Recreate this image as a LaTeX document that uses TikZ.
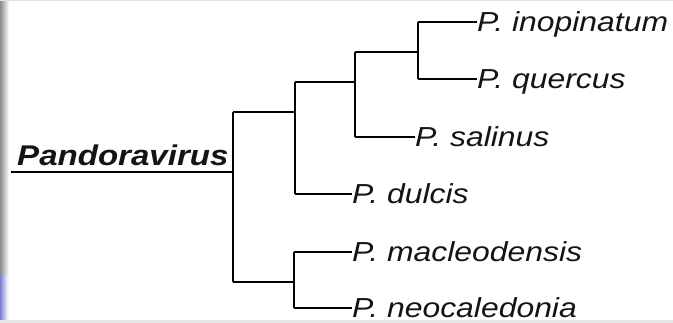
\documentclass[tikz,border=0pt]{standalone}
\usepackage{fontspec}
\newfontfamily\labfont[FakeStretch=1.16]{Liberation Sans}
\usetikzlibrary{shadings}
\tikzset{
  br/.style={line width=2pt, black},
  taxon/.style={anchor=base west, inner sep=0pt, font=\labfont\itshape\fontsize{27.5}{30}\selectfont, text=black!92},
}
\begin{document}
\begin{tikzpicture}[x=1pt,y=-1pt]
\useasboundingbox (0,0) rectangle (673,323);
\fill[white] (0,0) rectangle (673,323);
% frame shading
\shade[left color=black!45, right color=white] (0,0) rectangle (9,323);
\shade[left color=blue!45!gray!70, right color=white] (0,276) rectangle (8,323);
\fill[black!12] (0,0) rectangle (673,1.5);
\fill[black!10] (0,320) rectangle (673,323);

% internal nodes
\coordinate (A1) at (233,112); \coordinate (A2) at (233,282); \coordinate (A0) at (233,172);
\coordinate (B0) at (295,112); \coordinate (B1) at (295,82); \coordinate (B2) at (295,194);
\coordinate (C0) at (355,82); \coordinate (C1) at (355,52); \coordinate (C2) at (355,137);
\coordinate (D0) at (418,52); \coordinate (D1) at (418,22); \coordinate (D2) at (418,79);
\coordinate (F0) at (294,282); \coordinate (F1) at (294,252); \coordinate (F2) at (294,308);
\coordinate (U) at (11,172);

% taxa labels
\node[taxon] (ino) at (477,31.5) {P. inopinatum};
\node[taxon] (que) at (477,88.5) {P. quercus};
\node[taxon] (sal) at (415,146.5) {P. salinus};
\node[taxon] (dul) at (352,203.5) {P. dulcis};
\node[taxon] (mac) at (352,261.5) {P. macleodensis};
\node[taxon] (neo) at (352,317.5) {P. neocaledonia};
\node[anchor=base west, inner sep=0pt, font=\labfont\bfseries\itshape\fontsize{28.5}{30}\selectfont, text=black!92] (pv) at (17,166) {Pandoravirus};

% tree
\draw[br] (U) -- (A0);
\draw[br] (A1) -- (A2);
\draw[br] (A1) -- (B0);
\draw[br] (A2) -- (F0);
\draw[br] (B1) -- (B2);
\draw[br] (B2) -- (dul.west |- B2);
\draw[br] (B1) -- (C0);
\draw[br] (C1) -- (C2);
\draw[br] (C2) -- (sal.west |- C2);
\draw[br] (C1) -- (D0);
\draw[br] (D1) -- (D2);
\draw[br] (D1) -- (ino.west |- D1);
\draw[br] (D2) -- (que.west |- D2);
\draw[br] (F1) -- (F2);
\draw[br] (F1) -- (mac.west |- F1);
\draw[br] (F2) -- (neo.west |- F2);
\end{tikzpicture}
\end{document}
